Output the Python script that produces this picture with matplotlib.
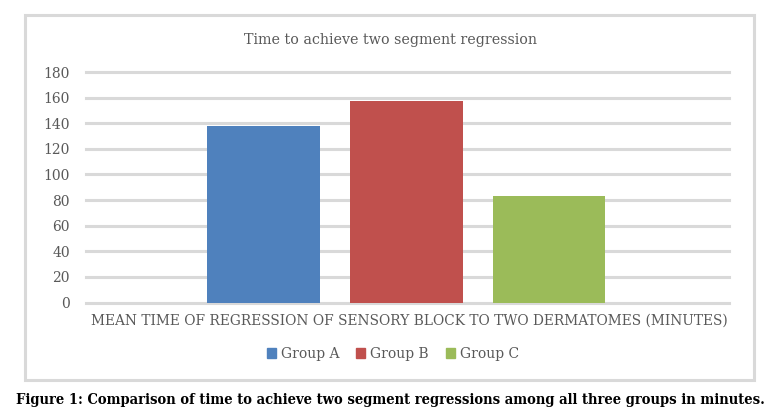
import matplotlib
matplotlib.use("Agg")
import matplotlib.pyplot as plt
from matplotlib.patches import Rectangle

groups = ["Group A", "Group B", "Group C"]
values = [138, 157, 83]
colors = ["#4F81BD", "#C0504D", "#9BBB59"]
yticks = [0, 20, 40, 60, 80, 100, 120, 140, 160, 180]
title = "Time to achieve two segment regression"
xlabel = "MEAN TIME OF REGRESSION OF SENSORY BLOCK TO TWO DERMATOMES (MINUTES)"
caption = "Figure 1: Comparison of time to achieve two segment regressions among all three groups in minutes."

W, H = 778, 417
fig = plt.figure(figsize=(W / 100, H / 100), dpi=100)
serif = ["DejaVu Serif"]
txt = "#595959"
grid_c = "#D9D9D9"
renderer = fig.canvas.get_renderer()


def fit_text(xc, yc, s, target_w, **kw):
    t = fig.text(xc / W, 1 - yc / H, s, ha="center", va="center", **kw)
    w = t.get_window_extent(renderer).width
    t.set_fontsize(t.get_fontsize() * target_w / w)
    return t


# outer chart border
fig.patches.append(Rectangle((25 / W, 1 - 380 / H), (754 - 25) / W, (380 - 15) / H,
                             transform=fig.transFigure, fill=False,
                             edgecolor=grid_c, linewidth=2.2))

ax = fig.add_axes([86 / W, 1 - 302.5 / H, (729 - 86) / W, (302.5 - 72) / H])
x = [-1, 0, 1]
ax.bar(x, values, width=0.79, color=colors, zorder=3)
ax.set_ylim(0, 180)
ax.set_xlim(-2.24, 2.26)
ax.set_yticks(yticks)
ax.set_yticklabels([str(t) for t in yticks], fontfamily=serif, fontsize=10, color=txt)
ax.set_xticks([])
ax.tick_params(axis="y", length=0, pad=11.5)
for s in ax.spines.values():
    s.set_visible(False)
ax.grid(axis="y", color=grid_c, linewidth=2.2, zorder=0)
for gl in ax.get_ygridlines():
    gl.set_clip_on(False)
ax.set_axisbelow(True)

fit_text(390.5, 40, title, 293, fontfamily=serif, fontsize=10, color=txt)
fit_text(409.5, 321, xlabel, 635, fontfamily=serif, fontsize=10, color=txt)

handles = [Rectangle((0, 0), 1, 1, color=c) for c in colors]
leg = fig.legend(handles, groups, loc="center", bbox_to_anchor=(393 / W, 1 - 354 / H),
                 ncol=3, frameon=False, prop={"family": serif, "size": 10},
                 handlelength=0.65, handleheight=0.65, handletextpad=0.36,
                 columnspacing=1.22, borderpad=0, borderaxespad=0)
for t in leg.get_texts():
    t.set_color(txt)

fit_text(390, 400, caption, 750, fontfamily=serif, fontsize=10,
         fontweight="bold", fontstretch="condensed", color="black")

fig.savefig("out.png", dpi=100)
